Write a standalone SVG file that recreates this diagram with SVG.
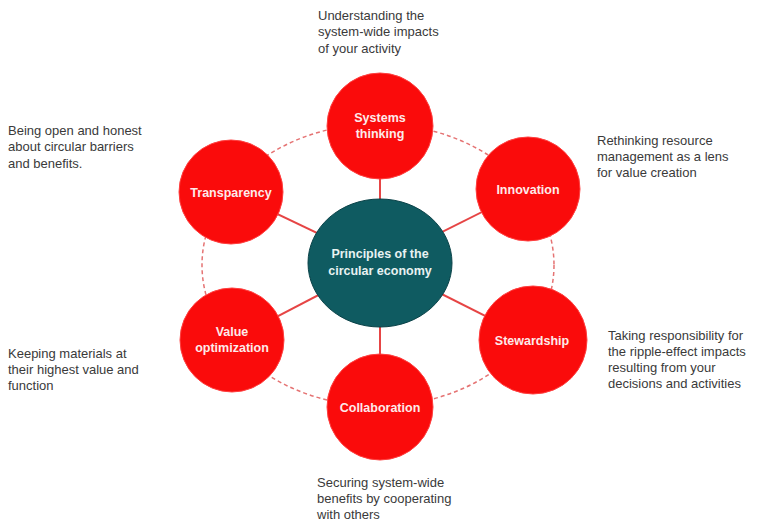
<svg xmlns="http://www.w3.org/2000/svg" width="769" height="531" viewBox="0 0 769 531">
<style>
.desc{font-family:"Liberation Sans",Arial,sans-serif;font-size:13px;fill:#3a3a3a}
.lbl{font-family:"Liberation Sans",Arial,sans-serif;font-size:12.5px;font-weight:bold;fill:#fdeaea;text-anchor:middle}
.clbl{font-family:"Liberation Sans",Arial,sans-serif;font-size:12.5px;font-weight:bold;fill:#e8f2f2;text-anchor:middle}
.red{fill:#fa0b0b;stroke:#ff4040;stroke-width:1}
.spoke{stroke:#e64545;stroke-width:2}
.ring{fill:none;stroke:#e57373;stroke-width:1.5;stroke-dasharray:4 3}
</style>
<rect width="769" height="531" fill="#ffffff"/>
<g id="connectors">
<ellipse class="ring" cx="378" cy="265" rx="176" ry="141"/>
<line class="spoke" x1="380" y1="263" x2="380" y2="126"/>
<line class="spoke" x1="380" y1="263" x2="528" y2="189"/>
<line class="spoke" x1="380" y1="263" x2="533" y2="340"/>
<line class="spoke" x1="380" y1="263" x2="380" y2="407"/>
<line class="spoke" x1="380" y1="263" x2="232" y2="340"/>
<line class="spoke" x1="380" y1="263" x2="231" y2="192"/>
</g>
<g id="center">
<ellipse cx="380" cy="263" rx="72" ry="64" fill="#0f5b61" stroke="#0a4248" stroke-width="1"/>
<text class="clbl" x="380" y="258">Principles of the</text>
<text class="clbl" x="380" y="275">circular economy</text>
</g>
<g id="systems-thinking">
<circle class="red" cx="380" cy="126" r="53"/>
<text class="lbl" x="380" y="122">Systems</text>
<text class="lbl" x="380" y="138">thinking</text>
</g>
<g id="innovation">
<circle class="red" cx="528" cy="189" r="52"/>
<text class="lbl" x="528" y="194">Innovation</text>
</g>
<g id="stewardship">
<circle class="red" cx="533" cy="340" r="54"/>
<text class="lbl" x="532" y="345">Stewardship</text>
</g>
<g id="collaboration">
<circle class="red" cx="380" cy="407" r="53"/>
<text class="lbl" x="380" y="412">Collaboration</text>
</g>
<g id="value-optimization">
<circle class="red" cx="232" cy="340" r="52"/>
<text class="lbl" x="232" y="336">Value</text>
<text class="lbl" x="232" y="352">optimization</text>
</g>
<g id="transparency">
<circle class="red" cx="231" cy="192" r="52"/>
<text class="lbl" x="231" y="197">Transparency</text>
</g>
<g id="descriptions">
<text class="desc" x="318" y="20">Understanding the</text>
<text class="desc" x="318" y="36">system-wide impacts</text>
<text class="desc" x="318" y="53">of your activity</text>
<text class="desc" x="8" y="135">Being open and honest</text>
<text class="desc" x="8" y="151">about circular barriers</text>
<text class="desc" x="8" y="168">and benefits.</text>
<text class="desc" x="597" y="145">Rethinking resource</text>
<text class="desc" x="597" y="161">management as a lens</text>
<text class="desc" x="597" y="177">for value creation</text>
<text class="desc" x="608" y="340">Taking responsibility for</text>
<text class="desc" x="608" y="356">the ripple-effect impacts</text>
<text class="desc" x="608" y="372">resulting from your</text>
<text class="desc" x="608" y="388">decisions and activities</text>
<text class="desc" x="8" y="358">Keeping materials at</text>
<text class="desc" x="8" y="374">their highest value and</text>
<text class="desc" x="8" y="390">function</text>
<text class="desc" x="317" y="487">Securing system-wide</text>
<text class="desc" x="317" y="503">benefits by cooperating</text>
<text class="desc" x="317" y="519">with others</text>
</g>
</svg>
